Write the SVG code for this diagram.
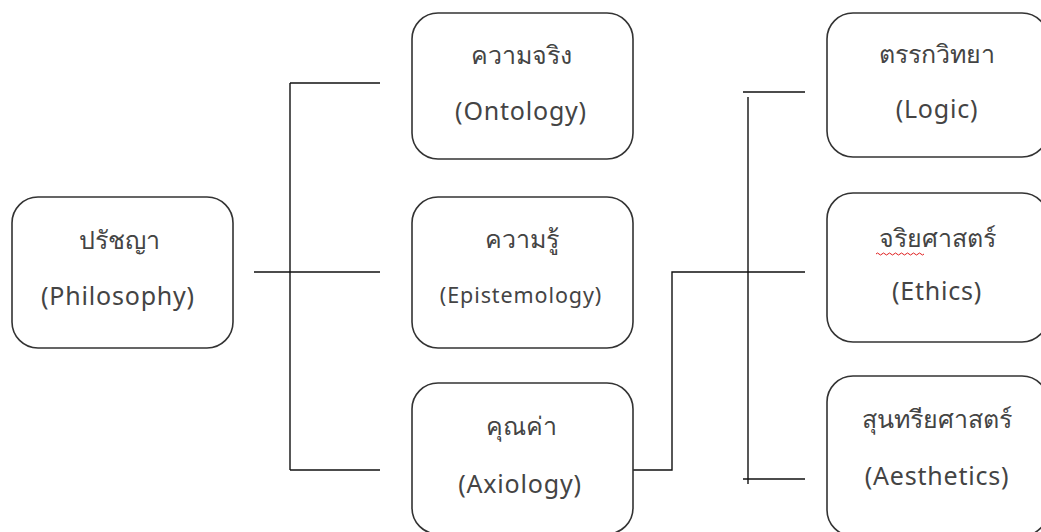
<svg xmlns="http://www.w3.org/2000/svg" width="1041" height="532" viewBox="0 0 1041 532">
<style>
.box{fill:#fff;stroke:#333;stroke-width:1.6}
.t{font-family:"Noto Sans","DejaVu Sans",sans-serif;font-size:25px;fill:#444;text-anchor:middle}
.l{letter-spacing:0.8px}
.s{font-size:21.5px;letter-spacing:0.9px}
.ln{stroke:#111;stroke-width:1.4;fill:none}
</style>
<rect width="1041" height="532" fill="#fff"/>
<g id="connectors">
<line class="ln" x1="254" y1="272" x2="380" y2="272"/>
<line class="ln" x1="290" y1="83" x2="290" y2="470"/>
<line class="ln" x1="290" y1="83" x2="380" y2="83"/>
<line class="ln" x1="290" y1="470" x2="380" y2="470"/>
<polyline class="ln" points="633,470 672,470 672,272 805,272"/>
<line class="ln" x1="748" y1="97" x2="748" y2="484"/>
<line class="ln" x1="743" y1="92" x2="805" y2="92"/>
<line class="ln" x1="743" y1="479" x2="805" y2="479"/>
</g>
<g id="philosophy">
<rect class="box" x="12" y="197" width="221" height="151" rx="26"/>
<text class="t" x="119" y="249">ปรัชญา</text>
<text class="t l" x="118" y="305">(Philosophy)</text>
</g>
<g id="ontology">
<rect class="box" x="412" y="13" width="221" height="146" rx="26"/>
<text class="t" x="521" y="64">ความจริง</text>
<text class="t l" x="521" y="120">(Ontology)</text>
</g>
<g id="epistemology">
<rect class="box" x="412" y="197" width="221" height="151" rx="26"/>
<text class="t" x="522" y="248">ความรู้</text>
<text class="t s" x="521" y="303">(Epistemology)</text>
</g>
<g id="axiology">
<rect class="box" x="412" y="383" width="221" height="151" rx="26"/>
<text class="t" x="521" y="435">คุณค่า</text>
<text class="t l" x="520" y="493">(Axiology)</text>
</g>
<g id="logic">
<rect class="box" x="827" y="13" width="221" height="144" rx="26"/>
<text class="t" x="937" y="63">ตรรกวิทยา</text>
<text class="t l" x="937" y="118">(Logic)</text>
</g>
<g id="ethics">
<rect class="box" x="827" y="193" width="221" height="149" rx="26"/>
<text class="t" x="937" y="247">จริยศาสตร์</text>
<path d="M876 254 q1.5 -2 3 0 t3 0 t3 0 t3 0 t3 0 t3 0 t3 0 t3 0 t3 0 t3 0 t3 0 t3 0 t3 0 t3 0 t3 0 t3 0" fill="none" stroke="#e02020" stroke-width="1"/>
<text class="t l" x="937" y="300">(Ethics)</text>
</g>
<g id="aesthetics">
<rect class="box" x="827" y="376" width="221" height="160" rx="26"/>
<text class="t" x="937" y="428">สุนทรียศาสตร์</text>
<text class="t l" x="937" y="485">(Aesthetics)</text>
</g>
</svg>
